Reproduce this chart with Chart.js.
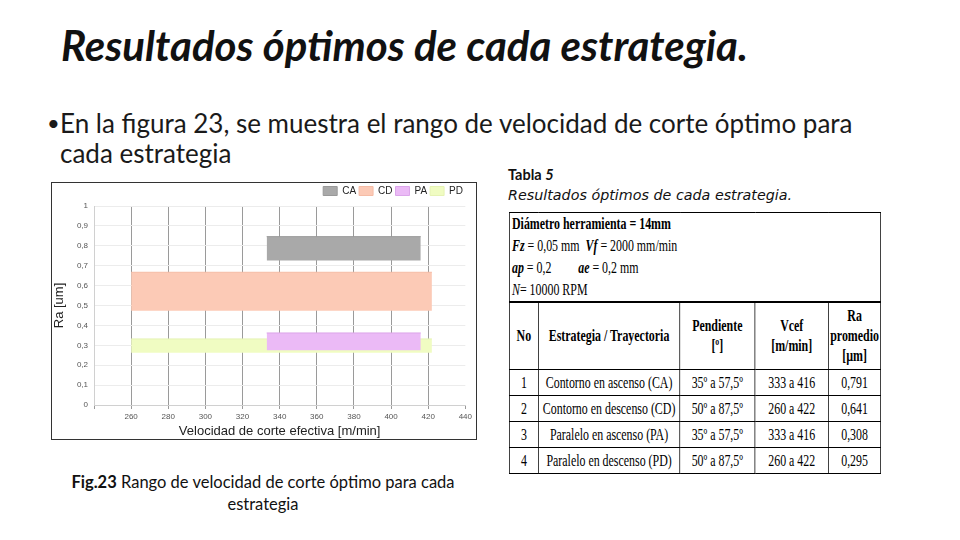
<!DOCTYPE html>
<html>
<head>
<meta charset="utf-8">
<script src="https://cdn.jsdelivr.net/npm/chart.js@4.4.1/dist/chart.umd.min.js"></script>
<style>
  body { margin: 0; width: 960px; height: 540px; background: #fff; position: relative; overflow: hidden; font-family: 'Lato', 'Noto Sans', sans-serif; color: #111; }
  .abs { position: absolute; white-space: nowrap; }
  #title { left: 61px; top: 20px; font-size: 42px; line-height: 50px; font-style: italic; font-weight: bold; }
  #bullet { left: 46px; top: 108px; font-size: 26px; line-height: 30px; color: #1a1a1a; }
  #bullet .dot { position: absolute; left: 1px; top: 0; font-size: 22px; }
  #bullet .txt { position: absolute; left: 14px; top: 0; }
  #frame { left: 51px; top: 182px; width: 424px; height: 256px; border: 1px solid #333; }
  #chartBox { left: 52px; top: 183px; width: 423px; height: 256px; }
  #caption { left: 50px; top: 471px; width: 426px; text-align: center; font-size: 16.5px; line-height: 22px; white-space: normal; }
  #tcap { left: 508px; top: 165px; font-size: 14.3px; line-height: 20px; }
  #tcap b { font-family: 'Lato', sans-serif; font-size: 14.5px; }
  #tcap i.sub { font-family: 'DejaVu Sans', sans-serif; }
  #tbl { left: 509px; top: 212px; width: 500px; transform: scaleX(0.744); transform-origin: 0 0; }
  #tbl table { border-collapse: collapse; width: 500px; font-family: 'Liberation Serif', serif; font-size: 16px; color: #000; }
  #tbl td { border: 1px solid #000; padding: 0; text-align: center; }
  #tbl td.head { text-align: left; line-height: 22px; height: 88px; border-bottom: 2px solid #000; padding-left: 3px; font-size: 16px; }
  #tbl tr.colhead td { height: 66px; font-weight: bold; line-height: 20px; }
  #tbl tr.row td { height: 25px; border-top: 1px solid #555; }
</style>
</head>
<body>
<div id="title" class="abs">Resultados óptimos de cada estrategia.</div>
<div id="bullet" class="abs"><span class="dot">•</span><span class="txt">En la figura 23, se muestra el rango de velocidad de corte óptimo para<br>cada estrategia</span></div>

<div id="frame" class="abs"></div>
<div id="chartBox" class="abs"><canvas id="rangeChart"></canvas></div>
<div id="caption" class="abs"><b>Fig.23</b> Rango de velocidad de corte óptimo para cada estrategia</div>

<div id="tcap" class="abs"><b>Tabla <i>5</i></b><br><i class="sub">Resultados óptimos de cada estrategia.</i></div>
<div id="tbl" class="abs"><table id="resTable"></table></div>

<script>
// Strategy ranges
const strategies = ['CA', 'CD', 'PA', 'PD'];
const vcefMin = [333, 260, 333, 260];
const vcefMax = [416, 422, 416, 422];
const raLow = [0.726, 0.474, 0.275, 0.262];
const raHigh = [0.846, 0.667, 0.362, 0.332];
const fillColors = ['#a9a9a9', '#fccab6', '#ebbaf6', '#f0fcc2'];
const edgeColors = ['#999999', '#f5bca6', '#dca6ea', '#e6f3b4'];

// Axis ranges
const xMin = 240, xMax = 440, xStep = 20;
const yMin = 0, yMax = 1, yStep = 0.1;

// Table 5 contents
const tableNo = ['1', '2', '3', '4'];
const tableStrategy = ['Contorno en ascenso (CA)', 'Contorno en descenso (CD)', 'Paralelo en ascenso (PA)', 'Paralelo en descenso (PD)'];
const tablePendiente = ['35º a 57,5º', '50º a 87,5º', '35º a 57,5º', '50º a 87,5º'];
const tableVcef = ['333 a 416', '260 a 422', '333 a 416', '260 a 422'];
const tableRa = ['0,791', '0,641', '0,308', '0,295'];

// Build the table
const table = document.getElementById('resTable');
let html = '<tr><td class="head" colspan="5"><b>Diámetro herramienta = 14mm</b><br>' +
    '<b><i>Fz</i></b> = 0,05 mm&nbsp; <b><i>Vf</i></b> = 2000 mm/min<br>' +
    '<b><i>ap</i></b> = 0,2 &nbsp; &nbsp; &nbsp; &nbsp; <b><i>ae</i></b> = 0,2 mm<br>' +
    '<i>N</i>= 10000 RPM</td></tr>';
html += '<tr class="colhead"><td style="width:38px">No</td><td style="width:189px">Estrategia / Trayectoria</td>' +
    '<td style="width:100px">Pendiente<br>[º]</td><td style="width:98px">Vcef<br>[m/min]</td><td>Ra<br>promedio<br>[µm]</td></tr>';
for (let i = 0; i < tableNo.length; i++) {
    html += '<tr class="row"><td>' + tableNo[i] + '</td><td>' + tableStrategy[i] + '</td><td>' +
        tablePendiente[i] + '</td><td>' + tableVcef[i] + '</td><td>' + tableRa[i] + '</td></tr>';
}
table.innerHTML = html;

// Each strategy is a rectangle: top edge line filled down to its lower Ra value
const datasets = strategies.map(function(name, i) {
    return {
        label: name,
        data: [{ x: vcefMin[i], y: raHigh[i] }, { x: vcefMax[i], y: raHigh[i] }],
        fill: { value: raLow[i] },
        backgroundColor: fillColors[i],
        borderColor: edgeColors[i],
        borderWidth: 1,
        pointRadius: 0,
        showLine: true
    };
});

const ctx = document.getElementById('rangeChart').getContext('2d');
new Chart(ctx, {
    type: 'scatter',
    data: { datasets: datasets },
    options: {
        responsive: true,
        maintainAspectRatio: false,
        animation: false,
        layout: { padding: { top: 0, right: 9, left: 0, bottom: 0 } },
        plugins: {
            legend: {
                position: 'top',
                align: 'end',
                labels: {
                    boxWidth: 14,
                    boxHeight: 9,
                    padding: 3,
                    color: '#222',
                    font: { family: 'Liberation Sans', size: 10 }
                }
            },
            tooltip: { enabled: false }
        },
        scales: {
            x: {
                type: 'linear',
                min: xMin,
                max: xMax,
                afterFit: function(scale) { scale.height = 34; },
                ticks: {
                    stepSize: xStep,
                    color: '#555',
                    padding: 3,
                    font: { family: 'Liberation Sans', size: 8 },
                    callback: function(v) { return v === xMin ? '' : v; }
                },
                grid: {
                    color: function(c) {
                        return (c.tick && (c.tick.value === xMin || c.tick.value === xMax)) ? 'rgba(0,0,0,0)' : '#9a9a9a';
                    },
                    tickColor: '#9a9a9a',
                    tickLength: 4
                },
                border: { color: '#d0d0d0' },
                title: {
                    display: true,
                    text: 'Velocidad de corte efectiva [m/min]',
                    color: '#222',
                    padding: { top: 0, bottom: 0 },
                    font: { family: 'Liberation Sans', size: 13 }
                }
            },
            y: {
                min: yMin,
                max: yMax,
                afterFit: function(scale) { scale.width = 42; },
                ticks: {
                    stepSize: yStep,
                    color: '#555',
                    padding: 6,
                    font: { family: 'Liberation Sans', size: 8 },
                    callback: function(v) {
                        if (v === 0 || v === 1) return String(v);
                        return v.toFixed(1).replace('.', ',');
                    }
                },
                grid: { color: '#ececec', drawTicks: false },
                border: { color: '#d0d0d0' },
                title: {
                    display: true,
                    text: 'Ra [um]',
                    color: '#222',
                    padding: 0,
                    font: { family: 'Liberation Sans', size: 13 }
                }
            }
        }
    }
});
</script>
</body>
</html>
